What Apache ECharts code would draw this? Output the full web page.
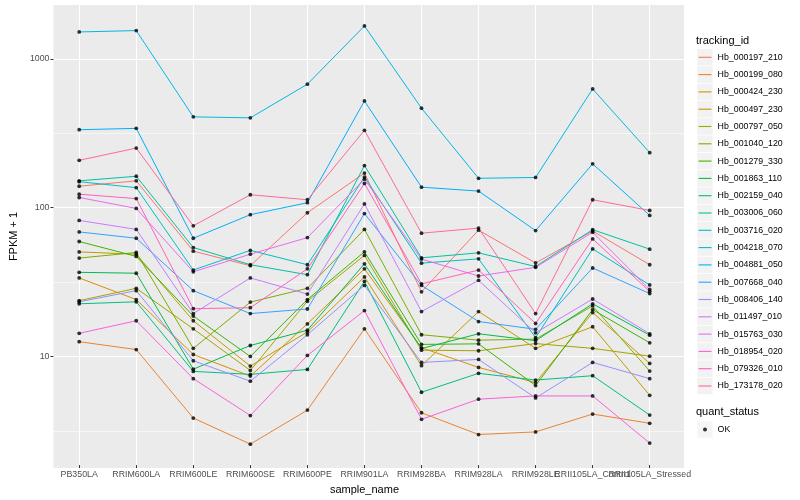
<!DOCTYPE html>
<html><head><meta charset="utf-8">
<script src="https://cdn.jsdelivr.net/npm/echarts@6/dist/echarts.min.js"></script>
<style>html,body{margin:0;padding:0;background:#fff}#c{width:800px;height:500px}</style>
</head><body><div id="c"></div>
<script>
const categories = ['PB350LA','RRIM600LA','RRIM600LE','RRIM600SE','RRIM600PE','RRIM901LA','RRIM928BA','RRIM928LA','RRIM928LE','RRII105LA_Control','RRII105LA_Stressed'];

const Hb_000197_210 = [137, 149, 49.9, 39.8, 90.7, 168, 26.5, 69.2, 41.5, 68.3, 40.4];
const Hb_000199_080 = [12.2, 10.8, 3.72, 2.48, 4.21, 14.9, 4.04, 2.88, 3.0, 3.96, 3.43];
const Hb_000424_230 = [32.9, 23.5, 10, 7.15, 16.1, 37.9, 11.1, 8.18, 6.46, 19.2, 8.7];
const Hb_000497_230 = [49.3, 47.6, 16.9, 8.35, 14.2, 33.4, 8.4, 19.5, 11.0, 15.4, 5.3];
const Hb_000797_050 = [23.1, 28, 14.9, 7.8, 22.9, 46.7, 10.7, 10.6, 11.85, 11.0, 9.74];
const Hb_001040_120 = [44.8, 48.9, 11, 22.6, 28, 70, 13.6, 12.5, 12.7, 21.3, 7.73];
const Hb_001279_330 = [58, 46, 18.2, 9.7, 23.5, 49.4, 11.7, 11.8, 6.17, 20.1, 12.0];
const Hb_001863_110 = [35.9, 35.4, 7.96, 11.5, 14.6, 41, 10.97, 13.8, 12.4, 22.0, 13.5];
const Hb_002159_040 = [22, 22.7, 7.69, 7.34, 7.93, 31.2, 5.56, 7.46, 6.72, 7.19, 3.9];
const Hb_003006_060 = [149, 160, 52.8, 40.4, 34.6, 189, 45, 48.6, 39.3, 69.7, 51.5];
const Hb_003716_020 = [147, 134, 37.2, 50.5, 40.4, 158, 41.4, 44.3, 13.0, 51.7, 29.5];
const Hb_004218_070 = [1510, 1542, 403, 397, 670, 1657, 461, 155, 157, 622, 231];
const Hb_004881_050 = [330, 337, 61, 88, 106, 516, 135, 127, 68.7, 194, 87];
const Hb_007668_040 = [67.3, 61, 27, 18.9, 20.3, 89.5, 29.3, 16.7, 14.8, 38.4, 25.8];
const Hb_008406_140 = [22.7, 27, 9.07, 6.6, 13.6, 29.3, 8.84, 9.26, 5.09, 8.84, 6.87];
const Hb_011497_010 = [80.5, 70, 18.9, 32.9, 25.6, 104, 19.5, 31.7, 14.0, 23.7, 13.8];
const Hb_015763_030 = [115, 97, 36.2, 47.6, 61.6, 153, 44.1, 33.9, 38.8, 66.9, 27.5];
const Hb_018954_020 = [13.9, 16.9, 6.87, 3.87, 9.85, 19.8, 3.65, 4.99, 5.25, 5.25, 2.52];
const Hb_079326_010 = [121, 113, 20.4, 20.7, 37.9, 143, 30, 37.2, 16.2, 60.4, 26.7];
const Hb_173178_020 = [205, 248, 74, 120, 111, 327, 66, 71.4, 18.9, 111, 94];

const trackingIds = ['Hb_000197_210','Hb_000199_080','Hb_000424_230','Hb_000497_230','Hb_000797_050','Hb_001040_120','Hb_001279_330','Hb_001863_110','Hb_002159_040','Hb_003006_060','Hb_003716_020','Hb_004218_070','Hb_004881_050','Hb_007668_040','Hb_008406_140','Hb_011497_010','Hb_015763_030','Hb_018954_020','Hb_079326_010','Hb_173178_020'];
const seriesValues = [Hb_000197_210,Hb_000199_080,Hb_000424_230,Hb_000497_230,Hb_000797_050,Hb_001040_120,Hb_001279_330,Hb_001863_110,Hb_002159_040,Hb_003006_060,Hb_003716_020,Hb_004218_070,Hb_004881_050,Hb_007668_040,Hb_008406_140,Hb_011497_010,Hb_015763_030,Hb_018954_020,Hb_079326_010,Hb_173178_020];
const quantStatus = ['OK'];
const yTickLabels = [10, 100, 1000];
const yMinorBreaks = [3.162, 31.62, 316.2];
const yMin = 1.79, yMax = 2296;

// ggplot2 hue palette (polar LUV)
function hcl(h, c, l) {
  const hr = h * Math.PI / 180;
  const u = c * Math.cos(hr), v = c * Math.sin(hr);
  const Xn = 95.047, Yn = 100, Zn = 108.883;
  const den = Xn + 15 * Yn + 3 * Zn;
  const un = 4 * Xn / den, vn = 9 * Yn / den;
  const Y = l > 8 ? Yn * Math.pow((l + 16) / 116, 3) : Yn * l / 903.3;
  const up = u / (13 * l) + un, vp = v / (13 * l) + vn;
  const X = 9 * Y * up / (4 * vp);
  const Z = -X / 3 - 5 * Y + 3 * Y / vp;
  const x = X / 100, y = Y / 100, z = Z / 100;
  const lin = [3.240479 * x - 1.537150 * y - 0.498535 * z,
               -0.969256 * x + 1.875992 * y + 0.041556 * z,
               0.055648 * x - 0.204043 * y + 1.057311 * z];
  return '#' + lin.map(t => {
    let g = t <= 0.0031308 ? 12.92 * t : 1.055 * Math.pow(t, 1 / 2.4) - 0.055;
    g = Math.max(0, Math.min(1, g));
    return Math.round(g * 255).toString(16).padStart(2, '0');
  }).join('');
}
const n = trackingIds.length;
const colors = trackingIds.map((_, i) => hcl(15 + 360 * i / n, 100, 65));

const F = 'Liberation Sans';
const lineSeries = trackingIds.map((name, i) => ({
  type: 'line', name, xAxisIndex: 1, yAxisIndex: 2,
  data: seriesValues[i], symbol: 'none', showSymbol: false, silent: true, z: 3,
  lineStyle: { width: 1, color: colors[i] }, itemStyle: { color: colors[i] }
}));
const points = [];
seriesValues.forEach(arr => arr.forEach((v, j) => points.push([j, v])));

const legendBase = { orient: 'vertical', padding: 0, itemGap: 0, selectedMode: false };
const chart = echarts.init(document.getElementById('c'));
chart.setOption({
  animation: false,
  textStyle: { fontFamily: F },
  title: [
    { text: 'tracking_id', left: 696, top: 35, padding: 0, textStyle: { fontSize: 11, fontWeight: 'normal', color: '#000', fontFamily: F } },
    { text: 'quant_status', left: 696, top: 406, padding: 0, textStyle: { fontSize: 11, fontWeight: 'normal', color: '#000', fontFamily: F } }
  ],
  grid: [
    { left: 45, right: 116, top: 5, bottom: 32, show: true, backgroundColor: '#EBEBEB', borderWidth: 0 },
    { left: 79.2, right: 150.3, top: 5, bottom: 32, show: false }
  ],
  xAxis: [
    { gridIndex: 0, type: 'category', data: categories, show: false },
    { gridIndex: 1, type: 'category', data: categories, boundaryGap: false,
      axisLine: { show: false },
      axisTick: { show: true, length: 3, lineStyle: { color: '#333', width: 1 } },
      axisLabel: { interval: 0, fontSize: 8.8, color: '#4D4D4D', margin: 5, fontFamily: F },
      splitLine: { show: true, lineStyle: { color: '#fff', width: 1.1 } },
      name: 'sample_name', nameLocation: 'middle', nameGap: 14.5,
      nameTextStyle: { fontSize: 11, color: '#000', fontFamily: F } }
  ],
  yAxis: [
    // minor grid lines (half decades)
    { gridIndex: 0, type: 'log', logBase: 10, min: yMin, max: yMax, position: 'left', offset: 0,
      axisLine: { show: false },
      axisTick: { show: false, customValues: yMinorBreaks },
      axisLabel: { show: false, customValues: yMinorBreaks },
      splitLine: { show: true, lineStyle: { color: '#fff', width: 0.55 } } },
    // major ticks, labels and grid lines
    { gridIndex: 0, type: 'log', logBase: 10, min: yMin, max: yMax, position: 'left', offset: 0,
      axisLine: { show: false },
      axisTick: { show: true, length: 3, customValues: yTickLabels, lineStyle: { color: '#333', width: 1 } },
      axisLabel: { fontSize: 8.8, color: '#4D4D4D', margin: 4, fontFamily: F, customValues: yTickLabels,
        formatter: v => { const r = Math.round(v); return yTickLabels.indexOf(r) >= 0 ? String(r) : ''; } },
      splitLine: { show: true, lineStyle: { color: '#fff', width: 1.1 } },
      name: 'FPKM + 1', nameLocation: 'middle', nameGap: 27,
      nameTextStyle: { fontSize: 11, color: '#000', fontFamily: F } },
    { gridIndex: 1, type: 'log', logBase: 10, min: yMin, max: yMax, show: false, position: 'left' }
  ],
  legend: [
    Object.assign({}, legendBase, { data: trackingIds, left: 697.3, top: 48.65, icon: 'rect', itemWidth: 15.3, itemHeight: 16.5,
      itemStyle: { color: '#F2F2F2', borderWidth: 0 }, textStyle: { fontSize: 8.8, color: '#000', lineHeight: 17.3, fontFamily: F } }),
    Object.assign({}, legendBase, { data: trackingIds, left: 698.5, top: 48.65, icon: 'rect', itemWidth: 13, itemHeight: 1.1,
      textStyle: { fontSize: 8.8, color: 'rgba(0,0,0,0)', lineHeight: 17.3, fontFamily: F } }),
    Object.assign({}, legendBase, { data: quantStatus, left: 697.3, top: 420.85, icon: 'rect', itemWidth: 15.3, itemHeight: 16.5,
      itemStyle: { color: '#F2F2F2', borderWidth: 0 }, textStyle: { fontSize: 8.8, color: '#000', lineHeight: 17.3, fontFamily: F } }),
    Object.assign({}, legendBase, { data: quantStatus, left: 703, top: 420.85, icon: 'circle', itemWidth: 4, itemHeight: 4,
      itemStyle: { color: '#000' }, textStyle: { fontSize: 8.8, color: 'rgba(0,0,0,0)', lineHeight: 17.3, fontFamily: F } })
  ],
  series: lineSeries.concat([
    { type: 'scatter', name: 'OK', xAxisIndex: 1, yAxisIndex: 2, data: points, symbolSize: 3.8, silent: true, z: 4,
      itemStyle: { color: '#000' } }
  ])
});
</script></body></html>
